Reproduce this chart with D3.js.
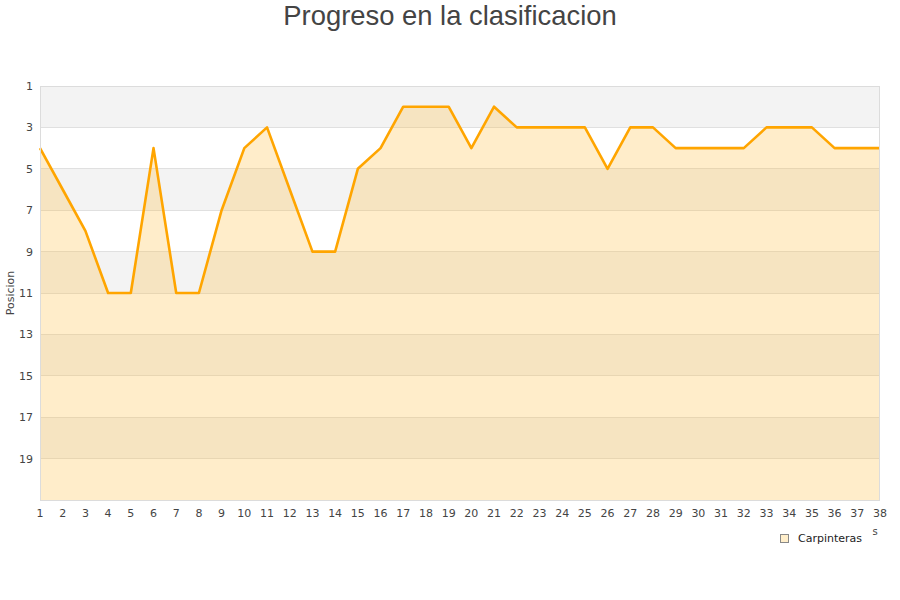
<!DOCTYPE html>
<html><head><meta charset="utf-8">
<script src="https://cdn.jsdelivr.net/npm/d3@7"></script>
<style>body{margin:0;background:#fff}svg{display:block}</style>
</head><body>
<svg id="c" width="900" height="600"></svg>
<script>
const rounds = d3.range(1, 39);
const positions = [4,6,8,11,11,4,11,11,7,4,3,6,9,9,5,4,2,2,2,4,2,3,3,3,3,5,3,3,4,4,4,4,3,3,3,4,4,4];
const yTicks = [1,3,5,7,9,11,13,15,17,19];
const seriesName = "Carpinteras";
const title = "Progreso en la clasificacion";
const yTitle = "Posicion";

const svg = d3.select("#c");
const L = 40, R = 880, T = 86, B = 500;
const x = d3.scaleLinear().domain([1, 38]).range([L, R]);
const y = d3.scaleLinear().domain([1, 21]).range([T, B]);

// bands
const bands = d3.range(1, 21, 2);
svg.append("g").selectAll("rect").data(bands).join("rect")
  .attr("x", L).attr("width", R - L)
  .attr("y", d => y(d)).attr("height", d => y(d + 2) - y(d))
  .attr("fill", (d, i) => i % 2 === 0 ? "#f3f3f3" : "#ffffff");
// grid
svg.append("g").selectAll("line").data(yTicks.slice(1).concat([21])).join("line")
  .attr("x1", L).attr("x2", R).attr("y1", d => y(d)).attr("y2", d => y(d))
  .attr("stroke", "#e0e0e0").attr("stroke-width", 1).attr("shape-rendering", "crispEdges");

const data = rounds.map((r, i) => ({r, p: positions[i]}));
svg.append("path").datum(data)
  .attr("d", d3.area().x(d => x(d.r)).y0(y(21)).y1(d => y(d.p)))
  .attr("fill", "rgba(255,190,60,0.27)");
svg.append("path").datum(data)
  .attr("d", d3.line().x(d => x(d.r)).y(d => y(d.p)))
  .attr("fill", "none").attr("stroke", "#ffa500").attr("stroke-width", 2.6)
  .attr("stroke-linejoin", "round");

// border
svg.append("rect").attr("x", L + 0.5).attr("y", T + 0.5).attr("width", R - L - 1).attr("height", B - T)
  .attr("fill", "none").attr("stroke", "#dcdcdc").attr("stroke-width", 1);

// y labels
svg.append("g").selectAll("text").data(yTicks).join("text")
  .attr("x", 33).attr("y", d => y(d) + 4).attr("text-anchor", "end")
  .attr("font-family", "DejaVu Sans").attr("font-size", 11).attr("fill", "#444")
  .text(d => d);
// x labels
svg.append("g").selectAll("text").data(rounds).join("text")
  .attr("x", d => x(d)).attr("y", 517).attr("text-anchor", "middle")
  .attr("font-family", "DejaVu Sans").attr("font-size", 11).attr("fill", "#444")
  .text(d => d);

svg.append("text").attr("transform", "translate(14,293) rotate(-90)")
  .attr("text-anchor", "middle").attr("font-family", "DejaVu Sans").attr("font-size", 11).attr("fill", "#444")
  .text(yTitle);

svg.append("text").attr("x", 450).attr("y", 25).attr("text-anchor", "middle")
  .attr("font-family", "Liberation Sans").attr("font-size", 27.4).attr("fill", "#444")
  .text(title);

// legend
svg.append("rect").attr("x", 780.5).attr("y", 534.5).attr("width", 8).attr("height", 8)
  .attr("fill", "#ffeeca").attr("stroke", "#888").attr("stroke-width", 1);
svg.append("text").attr("x", 798).attr("y", 542).attr("font-family", "DejaVu Sans")
  .attr("font-size", 11).attr("fill", "#222").text(seriesName);
svg.append("text").attr("x", 875).attr("y", 535).attr("text-anchor", "middle").attr("font-family", "DejaVu Sans")
  .attr("font-size", 10).attr("fill", "#444").text("s");
</script>
</body></html>
